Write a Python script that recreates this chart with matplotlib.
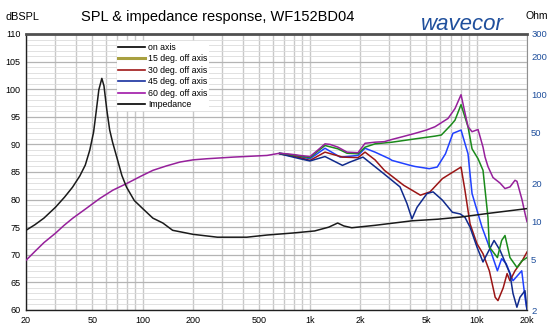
import matplotlib.pyplot as plt
from matplotlib.ticker import FixedLocator, NullFormatter
from matplotlib.lines import Line2D

plt.rcParams['font.family'] = ['Liberation Sans', 'DejaVu Sans']

# impedance (Ohm)
imp_f = [20, 22.6, 25.6, 30, 34, 38, 42, 45.3, 48.2, 50.8, 52.6, 54.6, 56.9, 58.6, 61, 63.4, 66, 70,
         75, 80, 89, 100, 115, 132, 151, 200, 280, 420, 555,
         800, 1070, 1300, 1470, 1600, 1785, 2455, 4100, 5860, 7960, 12000, 20000]
imp_ohm = [8.5, 9.4, 10.6, 12.9, 15.5, 18.6, 22.8, 27.8, 36.5, 50.6, 72.8, 109, 134, 117, 75, 52.5, 42,
           31.9, 23, 18.6, 14.6, 12.6, 10.6, 9.7, 8.5, 7.9, 7.5, 7.5, 7.8,
           8.1, 8.4, 9.0, 9.7, 9.2, 8.9, 9.3, 10.1, 10.4, 10.8, 11.6, 12.6]

# on axis (full range)
on_f = [20, 22.6, 25.6, 30, 33.7, 38, 45.9, 55.3, 66.2, 80, 96.9, 115, 138.6, 167, 200, 242, 349, 555,
        660, 780, 874, 1004, 1121, 1234, 1322, 1476, 1672, 1946, 2144, 2460, 2800, 3110, 3600, 4270,
        5000, 5626, 6732, 7414, 8054, 8868, 9374, 10184, 10906, 11216, 11674, 12513, 13783, 14766,
        15813, 16951, 17421, 18666, 19453, 20000]
on_db = [69.0, 70.6, 72.2, 73.9, 75.3, 76.6, 78.4, 80.2, 81.7, 82.9, 84.2, 85.3, 86.1, 86.8, 87.2, 87.4,
         87.7, 88.0, 88.4, 88.2, 88.0, 87.8, 89.0, 90.1, 90.0, 89.5, 88.6, 88.5, 90.2, 90.4, 90.5, 90.9,
         91.4, 92.0, 92.6, 93.2, 94.7, 96.5, 99.0, 93.2, 92.3, 92.7, 89.5, 87.7, 86.0, 84.0, 83.0, 82.0,
         82.3, 83.5, 83.3, 80.0, 77.5, 76.0]

d15_f = [660, 874, 1004, 1121, 1234, 1476, 1672, 1946, 2144, 2460, 3110, 4270, 5626, 6140, 7000, 7414,
         8054, 8868, 9374, 10184, 10906, 11674, 11900, 13300, 14100, 14766, 15813, 17421, 18666, 20000]
d15_db = [88.4, 87.9, 87.6, 88.8, 89.8, 89.2, 88.4, 88.3, 89.5, 90.1, 90.4, 91.0, 91.5, 91.7, 93.5, 94.4,
          97.2, 93.2, 89.2, 87.4, 85.3, 76.8, 71.4, 69.5, 72.6, 73.5, 69.5, 67.7, 68.9, 69.5]

d30_f = [660, 874, 1004, 1234, 1520, 1672, 1946, 2144, 2460, 3000, 3110, 4000, 4270, 5200, 5800, 6500,
         7200, 8054, 8868, 9374, 10757, 11900, 13300, 14100, 15000, 16490, 18600, 19450, 20000]
d30_db = [88.4, 87.8, 87.4, 89.3, 87.7, 87.8, 88.0, 89.3, 88.6, 87.4, 87.1, 86.2, 86.0, 85.6, 85.9, 88.3,
          92.0, 92.6, 88.3, 81.1, 75.0, 71.4, 67.1, 69.3, 68.4, 65.3, 67.1, 62.3, 60.0]

d45_f = [660, 874, 1004, 1234, 1570, 1946, 2144, 2460, 2800, 3650, 4600, 5250, 6230, 6700, 8054, 8500,
         9120, 10036, 10900, 11900, 12900, 13400, 14400, 15200, 15800, 16950, 18700, 20000]
d45_db = [88.3, 87.6, 87.1, 88.6, 87.7, 87.6, 88.6, 87.2, 85.3, 82.6, 80.8, 81.4, 83.8, 84.4, 85.9, 81.7,
          75.6, 72.0, 70.2, 67.1, 62.3, 61.7, 64.0, 66.6, 65.3, 67.1, 68.9, 70.5]

d60_f = [660, 874, 1004, 1234, 1570, 1742, 2084, 2748, 3472, 3820, 4096, 4390, 5038, 5480, 6230, 7150,
         7960, 8500, 9120, 10036, 10900, 12700, 13800, 15800, 16490, 17400, 18150, 19450, 20000]
d60_db = [88.3, 87.4, 87.0, 87.8, 86.2, 86.8, 87.7, 84.8, 82.3, 79.3, 76.5, 78.6, 81.1, 81.4, 79.9, 77.7,
          77.4, 76.8, 75.0, 71.4, 68.7, 72.6, 70.8, 66.6, 63.0, 60.5, 62.3, 63.5, 60.0]

legend_labels = ['on axis', '15 deg. off axis', '30 deg. off axis', '45 deg. off axis',
                 '60 deg. off axis', 'Impedance']
legend_colors = ['#000000', '#a8a040', '#a01818', '#1830a0', '#a018a8', '#000000']

xticks = [20, 50, 100, 200, 500, 1000, 2000, 5000, 10000, 20000]
xticklabels = ['20', '50', '100', '200', '500', '1k', '2k', '5k', '10k', '20k']
yticks = list(range(60, 111, 5))
ohm_ticks = [2, 5, 10, 20, 50, 100, 200, 300]

fig = plt.figure(figsize=(5.5, 3.28), dpi=100)
ax = fig.add_axes([26/550, 18/328, 501/550, 276/328])

ax.set_xscale('log')
ax.set_xlim(20, 20000)
ax.set_ylim(60, 110)

# grid
vlines = [m * d for d in (10, 100, 1000, 10000) for m in range(1, 10) if 20 <= m * d <= 20000]
ax.xaxis.set_major_locator(FixedLocator(xticks))
ax.xaxis.set_minor_locator(FixedLocator(vlines))
ax.xaxis.set_minor_formatter(NullFormatter())
ax.set_xticklabels(xticklabels)
ax.yaxis.set_major_locator(FixedLocator(yticks))
ax.yaxis.set_minor_locator(FixedLocator(range(60, 111)))
ax.grid(which='minor', axis='x', color='#c8c8c8', lw=1.0)
ax.grid(which='major', axis='x', color='#c8c8c8', lw=1.0)
ax.grid(which='minor', axis='y', color='#dcdcdc', lw=0.6)
ax.grid(which='major', axis='y', color='#b4b4b4', lw=0.9)
ax.set_axisbelow(True)
ax.tick_params(which='both', length=0, labelsize=6.5, pad=4)

for s in ['left', 'bottom']:
    ax.spines[s].set_color('#202020')
    ax.spines[s].set_linewidth(1.0)
ax.spines['top'].set_color('#505050')
ax.spines['top'].set_linewidth(2.0)
ax.spines['right'].set_color('#909090')
ax.spines['right'].set_linewidth(0.8)

ax.plot(on_f, on_db, color='#96209b', lw=1.1, zorder=5)
ax.plot(d15_f, d15_db, color='#1a8a1a', lw=1.1, zorder=4)
ax.plot(d30_f, d30_db, color='#2040ff', lw=1.1, zorder=3)
ax.plot(d45_f, d45_db, color='#9b1515', lw=1.1, zorder=3)
ax.plot(d60_f, d60_db, color='#102a8c', lw=1.1, zorder=3)

ax2 = ax.twinx()
ax2.set_yscale('log')
ax2.set_ylim(2, 300)
ax2.plot(imp_f, imp_ohm, color='#1a1a1a', lw=1.1)
ax2.yaxis.set_major_locator(FixedLocator(ohm_ticks))
ax2.yaxis.set_minor_locator(FixedLocator([]))
ax2.set_yticklabels([str(v) for v in ohm_ticks])
ax2.tick_params(length=0, labelsize=6.8, labelcolor='#1f4f9c', pad=3)
for s in ax2.spines.values():
    s.set_visible(False)

handles = [Line2D([], [], color=c, lw=2.2 if i == 1 else 1.2) for i, c in enumerate(legend_colors)]
leg = ax.legend(handles, legend_labels, loc='upper left', bbox_to_anchor=(0.172, 0.99),
                fontsize=6.3, frameon=True, framealpha=1, facecolor='white', edgecolor='none',
                fancybox=False, borderpad=0.2, labelspacing=0.28, handlelength=3.0, handletextpad=0.4)
leg.set_zorder(10)

fig.text(218/550, 1 - 17/328, 'SPL & impedance response, WF152BD04', fontsize=10.5,
         ha='center', va='center')
fig.text(5/550, 1 - 17/328, 'dBSPL', fontsize=7.8, ha='left', va='center')
fig.text(548/550, 1 - 16/328, 'Ohm', fontsize=7.5, ha='right', va='center')
fig.text(462/550, 1 - 25/328, 'wavecor', fontsize=16, style='italic', color='#1f4f9c',
         ha='center', va='center')

fig.savefig('out.png', dpi=100)
